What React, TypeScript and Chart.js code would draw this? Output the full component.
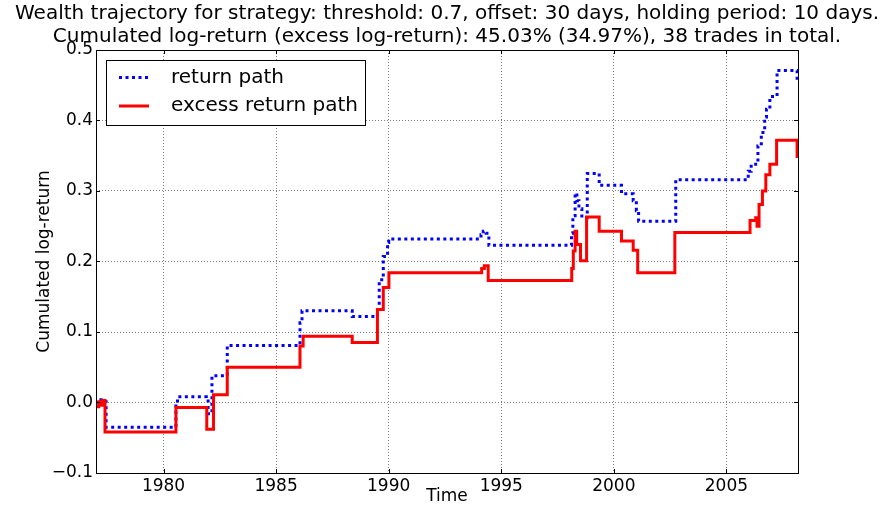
import React, { useEffect, useRef } from "react";
import { Chart, registerables } from "chart.js";

Chart.register(...registerables);

// ---- Data (decimal years, cumulated log-return) ----
const returnTimes = [
  1977.0, 1977.22, 1977.32, 1977.45,
  1980.55, 1980.62, 1981.9, 1981.98, 1982.15, 1982.83,
  1986.06, 1986.15, 1988.38,
  1989.5, 1989.58, 1989.76, 1989.95, 1990.0,
  1994.1, 1994.2, 1994.33, 1994.45,
  1998.12, 1998.18, 1998.28, 1998.36, 1998.45, 1998.58, 1998.82,
  1999.35, 2000.34, 2000.86, 2001.0, 2001.1, 2002.75,
  2005.97, 2006.1, 2006.4, 2006.55, 2006.7, 2006.78, 2006.93, 2007.25,
  2008.14, 2008.18,
];
const returnValues = [
  0.0, 0.004, 0.001, -0.035,
  0.0, 0.008, 0.005, -0.016, 0.038, 0.081,
  0.113, 0.13, 0.122,
  0.132, 0.174, 0.207, 0.227, 0.232,
  0.238, 0.243, 0.24, 0.223,
  0.24, 0.265, 0.297, 0.286, 0.275, 0.262, 0.325,
  0.308, 0.296, 0.286, 0.272, 0.257, 0.316,
  0.328, 0.338, 0.364, 0.383, 0.405, 0.416, 0.434, 0.471,
  0.456, 0.456,
];

const excessTimes = [
  1977.0, 1977.12, 1977.2, 1977.28, 1977.4,
  1980.55, 1981.92, 1982.22, 1982.83,
  1986.06, 1986.2, 1988.38,
  1989.5, 1989.76, 1990.01,
  1994.13, 1994.25, 1994.42,
  1998.13, 1998.2, 1998.28, 1998.35, 1998.52, 1998.79,
  1999.35, 2000.34, 2000.86, 2001.06, 2002.71,
  2006.05, 2006.3, 2006.36, 2006.45, 2006.6, 2006.75, 2006.93, 2007.23,
  2008.14, 2008.18,
];
const excessValues = [
  -0.006, 0.001, -0.004, 0.003, -0.042,
  -0.007, -0.038, 0.011, 0.05,
  0.08, 0.094, 0.085,
  0.132, 0.163, 0.184,
  0.19, 0.194, 0.173,
  0.19, 0.215, 0.243, 0.224, 0.201, 0.263,
  0.243, 0.229, 0.216, 0.184, 0.241,
  0.258, 0.262, 0.25, 0.281, 0.3, 0.323, 0.338, 0.372,
  0.349, 0.349,
];

const xTicks = [1980, 1985, 1990, 1995, 2000, 2005];
const yTicks = [-0.1, 0.0, 0.1, 0.2, 0.3, 0.4, 0.5];
const titleLines = [
  "Wealth trajectory for strategy: threshold: 0.7, offset: 30 days, holding period: 10 days.",
  "Cumulated log-return (excess log-return): 45.03% (34.97%), 38 trades in total.",
];
const seriesLabels = ["return path", "excess return path"];
const xAxisTitle = "Time";
const yAxisTitle = "Cumulated log-return";

const FONT = "'DejaVu Sans', 'Liberation Sans', sans-serif";
const BLUE = "#0000ff";
const RED = "#ff0000";
const BLUE_DASH = [3, 3.5];

const decorPlugin = {
  id: "decor",
  afterDraw(chart: any) {
    const { ctx, chartArea } = chart;
    const { left, right, top, bottom } = chartArea;
    ctx.save();
    // frame
    ctx.strokeStyle = "#000";
    ctx.lineWidth = 1;
    ctx.setLineDash([]);
    ctx.strokeRect(Math.round(left) + 0.5, Math.round(top) + 0.5, Math.round(right - left), Math.round(bottom - top));

    // inward tick marks
    const xs = chart.scales.x;
    const ys = chart.scales.y;
    ctx.beginPath();
    xTicks.forEach((v) => {
      const px = Math.round(xs.getPixelForValue(v)) + 0.5;
      ctx.moveTo(px, bottom);
      ctx.lineTo(px, bottom - 4);
      ctx.moveTo(px, top);
      ctx.lineTo(px, top + 4);
    });
    yTicks.forEach((v) => {
      const py = Math.round(ys.getPixelForValue(v)) + 0.5;
      ctx.moveTo(left, py);
      ctx.lineTo(left + 4, py);
      ctx.moveTo(right, py);
      ctx.lineTo(right - 4, py);
    });
    ctx.stroke();

    // titles
    ctx.fillStyle = "#000";
    ctx.textAlign = "center";
    ctx.textBaseline = "middle";
    ctx.font = `20px ${FONT}`;
    const cx = (left + right) / 2;
    ctx.fillText(titleLines[0], cx, 14);
    ctx.fillText(titleLines[1], cx, 37);

    // axis titles
    ctx.font = `17px ${FONT}`;
    ctx.fillText(xAxisTitle, cx, 497);
    ctx.save();
    ctx.translate(45, (top + bottom) / 2);
    ctx.rotate(-Math.PI / 2);
    ctx.fillText(yAxisTitle, 0, 0);
    ctx.restore();

    // legend
    const bx = 106, by = 60, bw = 259, bh = 65;
    ctx.fillStyle = "#fff";
    ctx.fillRect(bx, by, bw, bh);
    ctx.strokeStyle = "#000";
    ctx.lineWidth = 1;
    ctx.strokeRect(bx + 0.5, by + 0.5, bw, bh);
    const rows = [77.5, 106];
    const colors = [BLUE, RED];
    rows.forEach((ry, i) => {
      ctx.beginPath();
      ctx.strokeStyle = colors[i];
      ctx.lineWidth = 3;
      ctx.setLineDash(i === 0 ? BLUE_DASH : []);
      ctx.moveTo(119, ry);
      ctx.lineTo(149, ry);
      ctx.stroke();
      ctx.setLineDash([]);
      ctx.fillStyle = "#000";
      ctx.textAlign = "left";
      ctx.font = `20px ${FONT}`;
      ctx.fillText(seriesLabels[i], 171, ry);
    });
    ctx.restore();
  },
};

const fmtY = (v: number) => {
  const s = Number(v).toFixed(1);
  return s.startsWith("-") ? "\u2212" + s.slice(1) : s;
};

export default function App() {
  const ref = useRef<HTMLCanvasElement | null>(null);
  useEffect(() => {
    if (!ref.current) return;
    const chart = new Chart(ref.current, {
      type: "line",
      data: {
        datasets: [
          {
            label: seriesLabels[0],
            data: returnTimes.map((t, i) => ({ x: t, y: returnValues[i] })),
            borderColor: BLUE,
            borderWidth: 3,
            borderDash: BLUE_DASH,
            borderCapStyle: "butt",
            stepped: "before",
            pointRadius: 0,
            fill: false,
            order: 2,
          },
          {
            label: seriesLabels[1],
            data: excessTimes.map((t, i) => ({ x: t, y: excessValues[i] })),
            borderColor: RED,
            borderWidth: 3,
            stepped: "before",
            pointRadius: 0,
            fill: false,
            order: 1,
          },
        ],
      },
      options: {
        animation: false,
        responsive: false,
        maintainAspectRatio: false,
        devicePixelRatio: 1,
        layout: { padding: { left: 0, right: 96, top: 50, bottom: 0 } },
        plugins: {
          legend: { display: false },
          title: { display: false },
          tooltip: { enabled: false },
        },
        scales: {
          x: {
            type: "linear",
            min: 1977.0,
            max: 2008.18,
            afterBuildTicks: (s: any) => {
              s.ticks = xTicks.map((v) => ({ value: v }));
            },
            afterFit: (s: any) => {
              s.height = 36;
            },
            ticks: {
              autoSkip: false,
              maxRotation: 0,
              padding: 3,
              color: "#000",
              font: { family: FONT, size: 17 },
              callback: (v: any) => String(v),
            },
            grid: { color: "rgba(0,0,0,0.5)", lineWidth: 1, drawTicks: false },
            border: { display: false, dash: [1, 2] },
          },
          y: {
            type: "linear",
            min: -0.1,
            max: 0.5,
            afterBuildTicks: (s: any) => {
              s.ticks = yTicks.map((v) => ({ value: v }));
            },
            afterFit: (s: any) => {
              s.width = 96;
            },
            ticks: {
              padding: 3,
              color: "#000",
              font: { family: FONT, size: 17 },
              callback: (v: any) => fmtY(v),
            },
            grid: { color: "rgba(0,0,0,0.5)", lineWidth: 1, drawTicks: false },
            border: { display: false, dash: [1, 2] },
          },
        },
      },
      plugins: [decorPlugin],
    });
    return () => chart.destroy();
  }, []);
  return (
    <div style={{ position: "fixed", left: 0, top: 0, width: 894, height: 509, background: "#fff" }}>
      <canvas ref={ref} width={894} height={509} style={{ width: 894, height: 509, display: "block" }} />
    </div>
  );
}
